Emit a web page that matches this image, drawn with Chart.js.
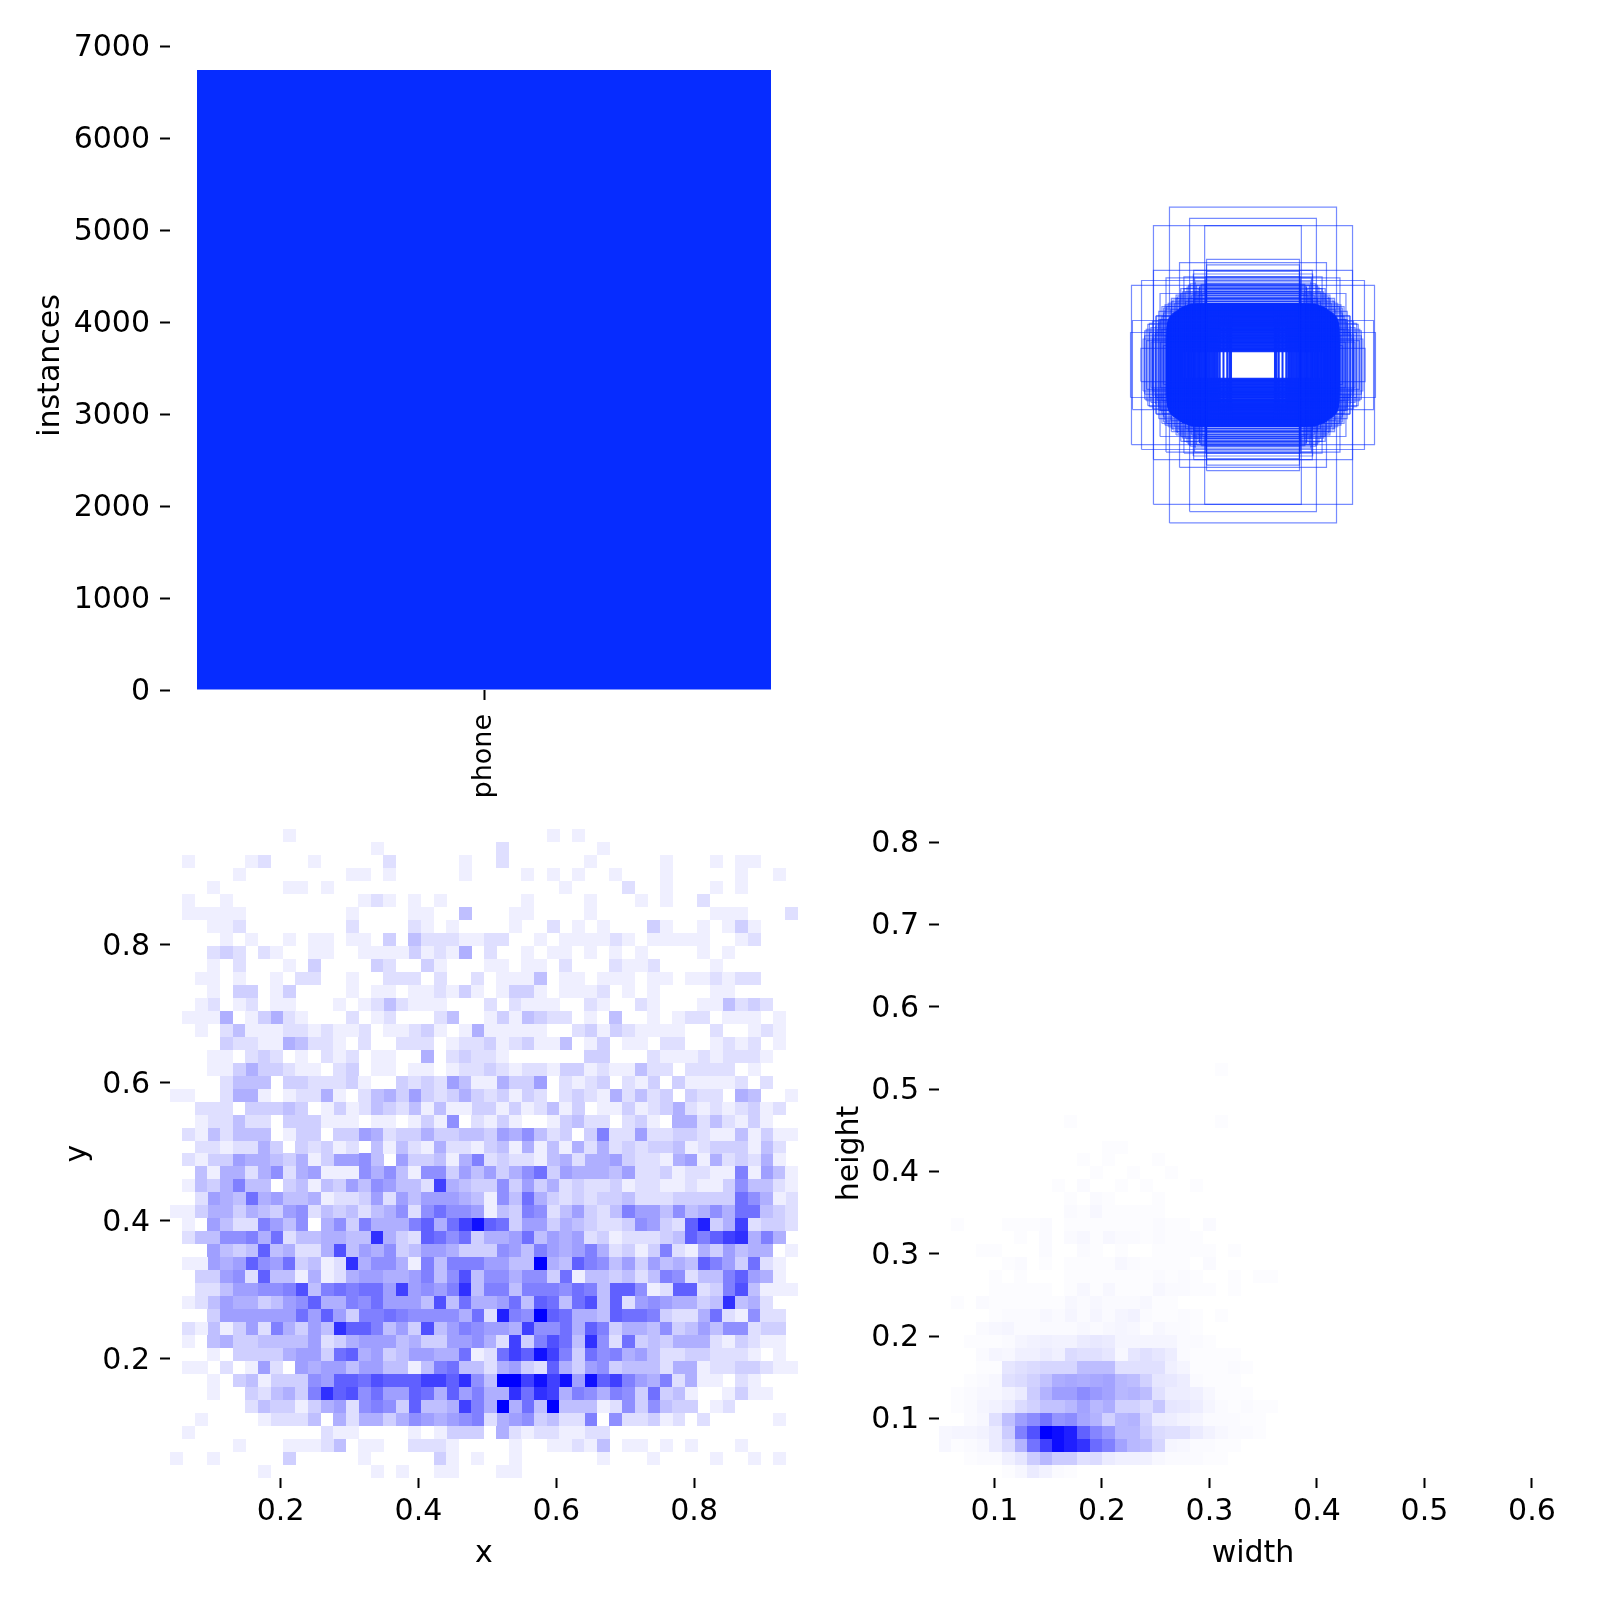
<!DOCTYPE html>
<html><head><meta charset="utf-8">
<style>html,body{margin:0;padding:0;background:#fff;width:1600px;height:1600px;overflow:hidden}canvas{position:absolute;display:block}</style>
<script src="https://cdn.jsdelivr.net/npm/chart.js@4"></script>
</head><body>
<script>
const classNames = ["phone"];
const instanceCounts = [6740];
const instanceTicks = [0,1000,2000,3000,4000,5000,6000,7000];
const xyTicks = [0.2,0.4,0.6,0.8];
const widthTicks = [0.1,0.2,0.3,0.4,0.5,0.6];
const heightTicks = [0.1,0.2,0.3,0.4,0.5,0.6,0.7,0.8];

// x/y histogram counts, one base-17 digit per bin, top row first: columns 0-24
const xyCountsLeft = [
"0000000001","00000000000000001","010000120001000002000001","000001000000001101000001","0001000001101",
"0100100000000001210101","011111000000001000011004","00011200000000200002101","0000101001011011030422211","000232021001100111131215",
"0001020001030000320031","0011010010220010022202002","0001033013000010110112131","0012012011000101242111","01115013521000201200024",
"0010241112212112011231015","0000322115422102002220122","0001102320102120110050232","0001135332110230110110122","0000244403322231003232641",
"1100255101225102453632353","0022203334301312432414113","0012242203331110110131702","0214244401330336523353344","0022122530323120414215221",
"0213365543513667406334158","0041552572561117574177364","014358440341436476442c543","0026549564451223626466654","1135535436724342457279776",
"01064228647057385558a59cf","0244778592445544d532a9793","0006434a45225b46573466533","011656a7693412d5775184888","0033672a441512566556847b4",
"0022466778b4898996c6768d4","01246553467a558796664b495","000366666696a638898777759","0214136285364daa8463b4687","0104533444462356664533667",
"00010333356639a5634665591","0110201620656646644148944","0001034133376aa9baaaccad7","000100324538dab7966a95a68","0000002433135627873a445c8",
"0010000122240525535765678","0100000000002110000101333","0000010001112401100222100","1001000003000001000003101","0000000100000000101001100"];
// same histogram: columns 25-49
const xyCountsRight = [
"0000010100","0200000001","0200000010000010001011","0001010100100010000010010","00000010000200100010 1",
"00010000100010100 2","0011000010000000001110002","0010020101000310010131","2200101111210111110012","20010110101010000101",
"11011020002112000010","01114011011101101121 22","01331011120101000011","2021110021002100011 4232","1314322010400101220111010",
"1111100231321111002001210","3123114013011022001212010","2100000033000211121 2221","3212213312114220222201","1533602123021303111120200",
"2313202321524230322054001","3131241301131235212123120","1310013422023105524 2131","3657423038226223321141311","3415141525232334123 33142",
"2322145255632215615 23251","6357936555462231221181641","3736352322312211211374421","1749532323342223333397512","1438724632486647457599432",
"a936635432237632ae35c2332","55694656231222 34a8acd585","3764865685231382153645501","6644g54a8746364 54a863921","7757739144342487244 8a651",
"8848887984aa712aa238b4111","5694a949b4a26765534d452","2e87ga9554a998322592 1722","665c7795a8355473464772 33","52c38b94d7293435552132 11",
"29cafc83978564223322 21010","25632a53673444255122 33211","4ggcfcf6fac865825110 21","55d9dc58758739341001 311","5g594g4441273743 3012",
"25673422807223120200 00010","0521221122","00100112140110101000 1","00100000010001000010 01010","011"].map(s=>s.replace(/ /g,""));

// width/height histogram, percent of the peak bin, bottom row first, column 0 on the left
const whPercent = [
[0,0,0,0,0,1,3,8,5,2,1],
[0,0,1,2,2,6,10,20,28,20,20,12,14,8,6,6,6,3,2,2,2,1,1],
[3,1,2,3,8,14,30,55,75,95,88,80,58,50,36,28,26,16,4,3,2,2,1,1],
[3,4,4,5,8,20,50,68,100,95,88,62,48,40,28,28,20,14,12,12,8,5,3,2,2,1],
[0,0,2,3,12,25,38,45,55,42,45,35,30,18,28,30,18,8,7,5,4,2,2,2,1,1],
[0,1,2,4,5,8,14,18,24,24,28,36,28,32,18,18,14,22,10,9,7,4,2,1,2,1,1],
[0,1,2,3,3,5,8,20,30,38,38,45,40,36,28,30,26,12,7,7,6,3,1,1,1],
[0,0,1,2,3,12,14,18,24,32,34,32,34,36,28,26,18,10,9,7,2,1,1,1],
[0,0,0,1,1,10,12,14,16,16,16,26,26,26,12,12,12,12,6,4,1,1,1,2,1],
[0,0,0,2,4,3,6,6,8,6,14,12,12,10,3,10,12,10,7,2,1,1,1,1],
[0,0,1,1,1,2,4,5,6,5,5,8,9,8,4,4,4,4,4,2,2,1],
[0,0,0,2,3,4,2,2,2,2,2,3,2,3,4,3,1,3,2,2,1],
[0,0,0,0,1,2,2,2,3,2,4,2,4,2,4,5,2,1,1,2,1,0,1],
[0,1,0,2,1,1,1,1,1,1,3,2,3,2,2,2,3,1,1],
[0,0,0,0,1,1,1,1,1,0,1,3,1,3,1,1,1,3,2,2,1,1,0,1],
[0,0,0,0,1,0,1,0,0,0,1,1,1,1,1,1,1,2,1,2,1,0,0,1,0,1,1],
[0,0,0,0,0,1,2,0,1,0,1,1,1,1,3,2,1,1,1,1,0,2],
[0,0,0,1,1,0,0,0,2,0,0,2,1,0,1,0,0,1,1,1,1,1,0,1],
[0,0,0,0,0,0,1,0,2,0,2,3,1,3,2,2,1,2,1,1,1],
[0,1,0,0,0,1,1,1,2,0,1,1,1,1,1,1,1,2,1,1,0,2],
[0,0,0,0,0,0,0,0,0,0,2,1,3,1,1,1,1,1],
[0,0,0,0,0,0,0,0,0,0,1,0,2,1,0,0,0,1],
[0,0,0,0,0,0,0,0,0,1,0,2,0,0,1,0,1,0,0,0,1],
[0,0,0,0,0,0,0,0,0,0,0,0,1,0,0,1,0,0,1],
[0,0,0,0,0,0,0,0,0,0,0,1,0,1,0,0,0,1],
[0,0,0,0,0,0,0,0,0,0,0,0,0,1,1],
[],
[0,0,0,0,0,0,0,0,0,0,1,0,0,0,0,0,0,0,0,0,0,0,1],
[],[],[],
[0,0,0,0,0,0,0,0,0,0,0,0,0,0,0,0,0,0,0,0,0,0,1]
];

// sparse outer label boxes: widths and heights as fractions of the picture
const outerBoxWidths = [
.266,.202,.317,.154,.148,.234,.387,.355,.390,.384,.357,.339,.330,.307,.317,.277,.189,.148,.220,.296,
.165,.170,.175,.185,.195,.205,.215,.235,.250,.262,.285,.300,.310,.290,.280,.295,.285,.320,
.200,.210,.220,.225,.230,.240,.245,.255,.260,.270,.275,.280,.285,.290,.295,.300,.305,.310,.315,.320,.325,.330,.340,.345,.350,
.148,.190,.150,.186,.152,.184,.149,.180,.170,.150,.165,.148,.160,.175,.150,.190,.152,
.215,.245,.260,.230,.205,.280,.290,.300,.310,.320,.325,.335,.345
];
const outerBoxHeights = [
.486,.451,.429,.429,.325,.315,.245,.260,.100,.137,.051,.075,.128,.152,.291,.268,.291,.308,.271,.220,
.248,.240,.232,.225,.215,.205,.195,.200,.190,.170,.160,.140,.120,.110,.090,.070,.060,.095,
.250,.240,.235,.225,.220,.210,.205,.200,.195,.190,.180,.170,.175,.150,.140,.130,.110,.100,.090,.080,.070,.100,.110,.090,.080,
.288,.280,.272,.268,.262,.256,.250,.246,.240,.236,.230,.226,.220,.214,.208,.202,.196,
.225,.215,.205,.235,.245,.185,.180,.165,.150,.135,.115,.125,.105
];
// dense inner label boxes
const denseBoxWidths = [
.070,.075,.082,.094,.106,.112,.116,.120,.124,.128,.132,.136,.140,.144,.148,.152,.156,.160,.164,.168,.172,.176,.180,.184,.188,.192,.196,.200,.204,.208,.212,.216,.220,.224,.228,.232,.236,.240,.244,.248,.252,.256,.260,.264,.268,.272,
.270,.271,.272,.270,.271,.269,.272,.270,.271,.272,.270,.271,.269,.272,.270,.271,.272,.270,.271,.269,.272,.270,.271,.271,.270,.269,.268,.266,.264,.262,.258,.254,.250,.244,.238,.232,.226,.216,.206,.196
];
const denseBoxHeights = [
.186,.184,.185,.186,.184,.185,.186,.184,.185,.186,.184,.185,.186,.184,.185,.186,.184,.185,.186,.184,.185,.186,.184,.185,.186,.184,.185,.184,.183,.182,.180,.179,.177,.176,.173,.171,.168,.165,.160,.156,.150,.145,.138,.130,.122,.110,
.042,.046,.049,.053,.057,.060,.064,.068,.071,.075,.079,.083,.086,.090,.094,.097,.101,.105,.108,.112,.116,.119,.123,.127,.131,.134,.138,.142,.146,.149,.153,.157,.160,.164,.168,.172,.175,.179,.183,.186
];

const F = "'DejaVu Sans'";
const BLUE = "#062cff";
Chart.defaults.animation = false;
Chart.defaults.font.family = F;
Chart.defaults.color = "#000";

function sprite(t){
  const c = document.createElement("canvas"); c.width = 13; c.height = 13;
  const g = c.getContext("2d"); const v = Math.round(255*(1-t));
  g.fillStyle = `rgb(${v},${v},255)`; g.fillRect(0,0,13,13);
  return c;
}
function heatSets(cells, peak){
  const groups = new Map();
  cells.forEach(k=>{ if(k.v>0){ if(!groups.has(k.v)) groups.set(k.v,[]); groups.get(k.v).push({x:k.x,y:k.y}); } });
  return [...groups.keys()].sort((a,b)=>a-b).map(v=>({
    data: groups.get(v), pointStyle: sprite(v/peak), pointRadius: 6, clip:false
  }));
}
function axis(extra){
  return Object.assign({
    border:{display:false},
    grid:{drawOnChartArea:false,offset:false,color:"#000",tickColor:"#000",tickLength:10,tickWidth:2},
  },extra);
}
function numAxis(pos,min,max,ticks,dec,title,pad,fit){
  return axis({type:"linear",position:pos,min,max,afterFit:fit,
    afterBuildTicks:s=>{s.ticks=ticks.map(v=>({value:v}));},
    ticks:{autoSkip:false,maxRotation:0,minRotation:0,padding:pos==="left"?10:6,labelOffset:pos==="left"?2:0,font:{size:30},callback:v=>v.toFixed(dec)},
    title:{display:true,text:title,font:{size:30,lineHeight:1.2},padding:pad}});
}
function place(rect,area,make){
  const c = document.createElement("canvas");
  const w = rect.right-rect.left, h = rect.bottom-rect.top;
  c.width=w; c.height=h; c.style.left=rect.left+"px"; c.style.top=rect.top+"px"; c.style.width=w+"px"; c.style.height=h+"px";
  document.body.appendChild(c);
  const yw = s=>{s.width=area.left-rect.left;}, xh = s=>{s.height=rect.bottom-area.bottom;};
  const cfg = make(yw,xh);
  cfg.options = Object.assign({responsive:false,devicePixelRatio:1,animation:false,
    layout:{padding:{top:area.top-rect.top,right:rect.right-area.right,left:0,bottom:0}},
    plugins:{legend:{display:false},tooltip:{enabled:false}}},cfg.options);
  new Chart(c,cfg);
}
function boxSets(widths,heights,color,lw){
  return widths.map((w,i)=>{const h=heights[i];return {
    data:[{x:.5-w/2,y:.5-h/2},{x:.5+w/2,y:.5-h/2},{x:.5+w/2,y:.5+h/2},{x:.5-w/2,y:.5+h/2},{x:.5-w/2,y:.5-h/2}],
    borderColor:color,borderWidth:lw,pointRadius:0,tension:0,fill:false};});
}

// bar panel
place({left:0,top:0,right:830,bottom:800},{left:170,top:41,right:798,bottom:690},(yw,xh)=>({
  type:"bar",
  data:{labels:classNames,datasets:[{data:instanceCounts,backgroundColor:BLUE,barPercentage:0.914,categoryPercentage:1}]},
  options:{scales:{
    x:axis({type:"category",afterFit:xh,ticks:{maxRotation:90,minRotation:90,padding:14,font:{size:27}}}),
    y:numAxis("left",0,7056,instanceTicks,0,"instances",{top:33,bottom:0},yw)
  }}
}));

// box outlines panel
place({left:830,top:0,right:1600,bottom:800},{left:939,top:40,right:1567,bottom:690},(yw,xh)=>({
  type:"line",
  data:{datasets:[...boxSets(outerBoxWidths,outerBoxHeights,"rgba(6,44,255,0.55)",1.2),...boxSets(denseBoxWidths,denseBoxHeights,"rgba(6,44,255,0.95)",2)]},
  options:{scales:{
    x:{type:"linear",min:0,max:1,display:false,afterFit:xh},
    y:{type:"linear",min:0,max:1,display:false,afterFit:yw}
  }}
}));

// x,y histogram
const xMin=0.0395,xMax=0.9507,yMin=0.0275,yMax=0.968;
const xyCells=[];
xyCountsLeft.forEach((left,r)=>{
  const row=left.padEnd(25,"0")+xyCountsRight[r];
  for(let c=0;c<row.length;c++){
    xyCells.push({x:xMin+(c+.5)*(xMax-xMin)/50,y:yMax-(r+.5)*(yMax-yMin)/50,v:parseInt(row[c],17)});
  }
});
place({left:0,top:800,right:830,bottom:1600},{left:170,top:829,right:798,bottom:1478},(yw,xh)=>({
  type:"scatter",
  data:{datasets:heatSets(xyCells,16)},
  options:{scales:{
    x:numAxis("bottom",xMin,xMax,xyTicks,1,"x",{top:0,bottom:28},xh),
    y:numAxis("left",yMin,yMax,xyTicks,1,"y",{top:60,bottom:0},yw)
  }}
}));

// width,height histogram
const wMin=0.0484,wMax=0.6326,hMin=0.0276,hMax=0.816;
const whCells=[];
whPercent.forEach((row,r)=>row.forEach((v,c)=>{
  whCells.push({x:wMin+(c+.5)*(wMax-wMin)/50,y:hMin+(r+.5)*(hMax-hMin)/50,v});
}));
place({left:830,top:800,right:1600,bottom:1600},{left:939,top:829,right:1567,bottom:1478},(yw,xh)=>({
  type:"scatter",
  data:{datasets:heatSets(whCells,100)},
  options:{scales:{
    x:numAxis("bottom",wMin,wMax,widthTicks,1,"width",{top:0,bottom:28},xh),
    y:numAxis("left",hMin,hMax,heightTicks,1,"height",{top:2,bottom:0},yw)
  }}
}));
</script>
</body></html>
